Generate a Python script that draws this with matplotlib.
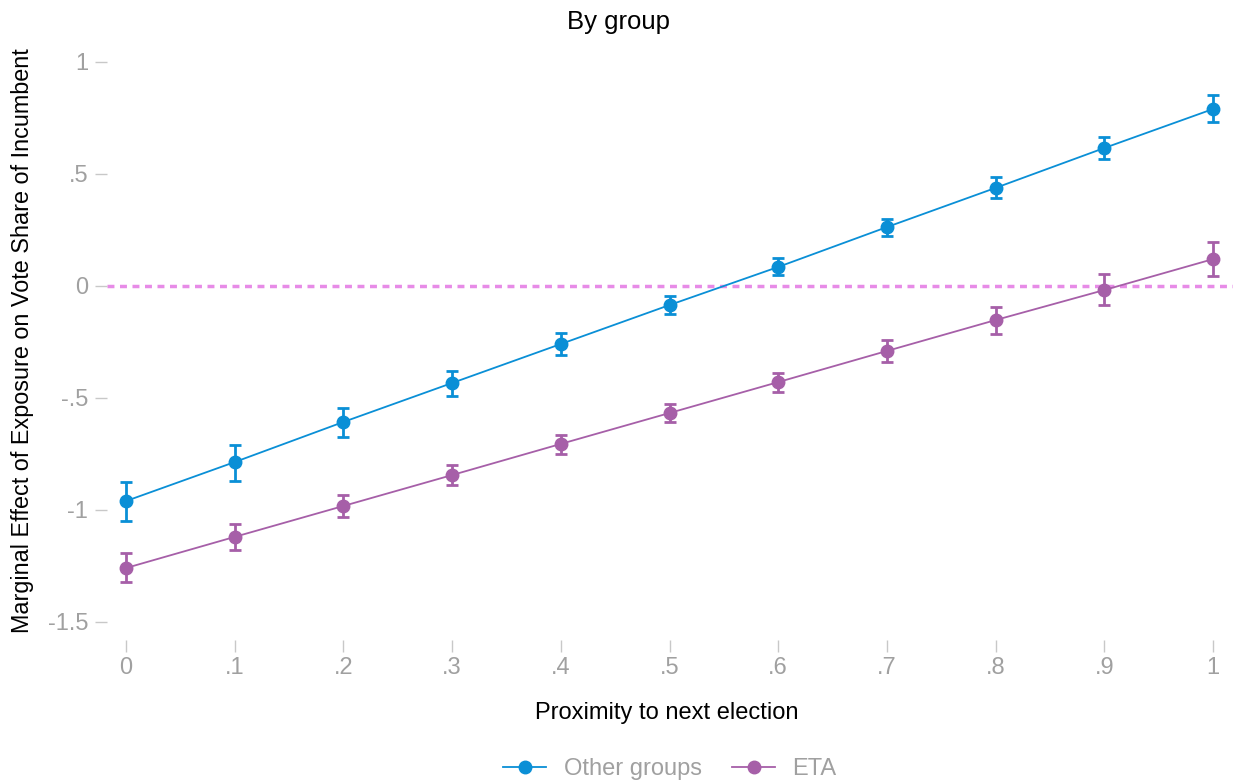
import numpy as np
import matplotlib
matplotlib.use('Agg')
import matplotlib.pyplot as plt

plt.rcParams['font.family'] = ['Liberation Sans', 'DejaVu Sans']

# proximity grid
proximity = [0, 0.1, 0.2, 0.3, 0.4, 0.5, 0.6, 0.7, 0.8, 0.9, 1.0]
x_labels = ['0', '.1', '.2', '.3', '.4', '.5', '.6', '.7', '.8', '.9', '1']

# marginal effects with 95% CI
other_est = [-0.960, -0.786, -0.607, -0.433, -0.259, -0.085, 0.085, 0.263, 0.438, 0.616, 0.790]
other_lo = [-1.049, -0.870, -0.674, -0.490, -0.308, -0.125, 0.049, 0.223, 0.393, 0.567, 0.732]
other_hi = [-0.875, -0.710, -0.545, -0.380, -0.210, -0.045, 0.125, 0.300, 0.487, 0.665, 0.853]

eta_est = [-1.259, -1.120, -0.982, -0.844, -0.705, -0.567, -0.429, -0.290, -0.152, -0.018, 0.120]
eta_lo = [-1.321, -1.179, -1.031, -0.888, -0.750, -0.607, -0.473, -0.339, -0.214, -0.085, 0.045]
eta_hi = [-1.192, -1.063, -0.933, -0.800, -0.665, -0.527, -0.388, -0.241, -0.094, 0.054, 0.196]

y_ticks = [1, 0.5, 0, -0.5, -1, -1.5]
y_labels = ['1', '.5', '0', '-.5', '-1', '-1.5']

c_other = '#0a8fd6'
c_eta = '#a65fa8'
c_ref = '#e78be7'
c_tick = '#a0a0a0'

W, H = 1237, 782
L, R, T, B = 107, 1233, 48, 640   # plot region in pixels
fig = plt.figure(figsize=(W / 100, H / 100), dpi=100)
ax = fig.add_axes([L / W, 1 - B / H, (R - L) / W, (B - T) / H])

# x: 0 -> px 126, 1 -> px 1213 ; y: 0 -> px 286, 224 px per unit
ppx = 1087.0
ax.set_xlim(-(126 - L) / ppx, 1 + (R - 1213) / ppx)
ppy = 224.0
ax.set_ylim(-(B - 286) / ppy, (286 - T) / ppy)

ax.axhline(0, color=c_ref, lw=2.5, ls=(0, (2, 1.6)), zorder=1)

for est, lo, hi, col, lab in [(other_est, other_lo, other_hi, c_other, 'Other groups'),
                              (eta_est, eta_lo, eta_hi, c_eta, 'ETA')]:
    est = np.array(est)
    yerr = [est - np.array(lo), np.array(hi) - est]
    ax.errorbar(proximity, est, yerr=yerr, fmt='none', ecolor=col,
                elinewidth=2, capsize=4, capthick=2, zorder=2)
    ax.plot(proximity, est, '-o', color=col, lw=1.3, ms=9, label=lab, zorder=3)

for s in ax.spines.values():
    s.set_visible(False)

ax.set_xticks(proximity)
ax.set_xticklabels(x_labels)
ax.set_yticks(y_ticks)
ax.set_yticklabels(y_labels)
ax.tick_params(axis='both', colors='#c8c8c8', labelcolor=c_tick, labelsize=17,
               length=8.5, width=1, direction='out')
ax.tick_params(axis='y', pad=5)
ax.tick_params(axis='x', pad=4)

ax.set_xlabel('Proximity to next election', fontsize=17)
ax.xaxis.set_label_coords((667 - L) / (R - L), -(702 - B) / (B - T))
ax.set_ylabel('Marginal Effect of Exposure on Vote Share of Incumbent', fontsize=16.8)
ax.yaxis.set_label_coords(-(L - 34) / (R - L), (B - 341) / (B - T))
fig.text(0.5, 1 - 22 / H, 'By group', fontsize=18.5, ha='center', va='center')

leg = fig.legend(loc='center', bbox_to_anchor=(670 / W, 1 - 769 / H), ncol=2, frameon=False,
                 fontsize=17, handlelength=1.8, handletextpad=0.75, columnspacing=1.3)
for t in leg.get_texts():
    t.set_color(c_tick)

fig.savefig('out.png', dpi=100)
